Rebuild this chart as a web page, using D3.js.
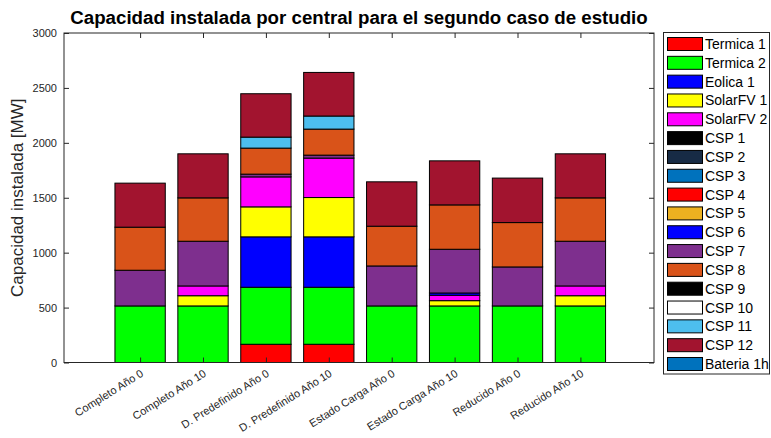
<!DOCTYPE html>
<html><head><meta charset="utf-8">
<script src="https://cdn.jsdelivr.net/npm/d3@7"></script>
<style>body{margin:0;background:#fff;font-family:"Liberation Sans",Arial,sans-serif;}</style>
</head><body>
<svg id="c" width="771" height="438"></svg>
<script>
const categories = ["Completo Año 0","Completo Año 10","D. Predefinido Año 0","D. Predefinido Año 10","Estado Carga Año 0","Estado Carga Año 10","Reducido Año 0","Reducido Año 10"];
const seriesNames = ["Termica 1","Termica 2","Eolica 1","SolarFV 1","SolarFV 2","CSP 1","CSP 2","CSP 3","CSP 4","CSP 5","CSP 6","CSP 7","CSP 8","CSP 9","CSP 10","CSP 11","CSP 12","Bateria 1h"];
const seriesColors = ["#ff0000","#00ff00","#0000ff","#ffff00","#ff00ff","#000000","#172b45","#0072bd","#ff0000","#edb120","#0000ff","#7e2f8e","#d95319","#000000","#ffffff","#4dbeee","#a2142f","#0072bd"];
const termica1 = [0,0,166,166,0,0,0,0];
const termica2 = [515,515,519,519,515,515,515,515];
const eolica1  = [0,0,459,459,0,0,0,0];
const solarFV1 = [0,93,273,358,0,48,0,93];
const solarFV2 = [0,89,273,359,0,49,0,89];
const csp1 = [0,0,0,0,0,0,0,0];
const csp2 = [0,0,0,0,0,0,0,0];
const csp3 = [0,0,0,0,0,0,0,0];
const csp4 = [0,0,0,0,0,0,0,0];
const csp5 = [0,0,0,0,0,0,0,0];
const csp6 = [0,0,0,0,0,21,0,0];
const csp7 = [325,407,25,27,364,398,355,407];
const csp8 = [392,395,237,237,362,404,404,395];
const csp9 = [0,0,0,0,0,0,0,0];
const csp10 = [0,0,0,0,0,0,0,0];
const csp11 = [0,0,100,119,0,0,0,0];
const csp12 = [401,401,395,397,404,401,405,401];
const bateria1h = [0,0,0,0,0,0,0,0];
const yTicks = [0,500,1000,1500,2000,2500,3000];

const seriesValues = [termica1,termica2,eolica1,solarFV1,solarFV2,csp1,csp2,csp3,csp4,csp5,csp6,csp7,csp8,csp9,csp10,csp11,csp12,bateria1h];

const svg = d3.select("#c");
const L = 64, R = 654, T = 33, B = 362.5;
const axisCol = "#262626";
const FONT = '"Liberation Sans",Arial,sans-serif';

const xLin = d3.scaleLinear().domain([-0.21, 9.17]).range([L, R]);
const y = d3.scaleLinear().domain([0, 3000]).range([B, T]);
const bw = (xLin(1) - xLin(0)) * 0.8;

const table = categories.map((c, i) => {
  const o = {cat: c, idx: i};
  seriesNames.forEach((s, j) => o[s] = seriesValues[j][i]);
  return o;
});
const stack = d3.stack().keys(seriesNames)(table);

const g = svg.append("g");
stack.forEach((layer, j) => {
  g.selectAll(null).data(layer.filter(d => d[1] - d[0] > 0)).enter().append("rect")
    .attr("x", d => xLin(d.data.idx + 1) - bw / 2)
    .attr("width", bw)
    .attr("y", d => y(d[1]))
    .attr("height", d => y(d[0]) - y(d[1]))
    .attr("fill", seriesColors[j])
    .attr("stroke", "#000")
    .attr("stroke-width", 1);
});

const xTickVals = categories.map((c, i) => i + 1);
function styleAxis(sel) {
  sel.select(".domain").remove();
  sel.selectAll(".tick line").attr("stroke", axisCol);
  sel.selectAll(".tick text").attr("fill", axisCol).style("font-size", "11px").style("font-family", FONT);
}
styleAxis(svg.append("g").attr("transform", `translate(${L},0)`)
  .call(d3.axisLeft(y).tickValues(yTicks).tickSize(-5).tickPadding(7).tickFormat(d3.format("d"))));
styleAxis(svg.append("g").attr("transform", `translate(${R},0)`)
  .call(d3.axisRight(y).tickValues(yTicks).tickSize(-5).tickFormat("")));
styleAxis(svg.append("g").attr("transform", `translate(0,${B})`)
  .call(d3.axisBottom(xLin).tickValues(xTickVals).tickSize(-5).tickFormat("")));
styleAxis(svg.append("g").attr("transform", `translate(0,${T})`)
  .call(d3.axisTop(xLin).tickValues(xTickVals).tickSize(-5).tickFormat("")));
svg.append("rect").attr("x", L).attr("y", T).attr("width", R - L).attr("height", B - T)
  .attr("fill", "none").attr("stroke", axisCol).attr("stroke-width", 1);

svg.append("g").selectAll("text").data(categories).enter().append("text")
  .attr("transform", (d, i) => `translate(${xLin(i + 1) + 4},${B + 13}) rotate(-32)`)
  .attr("text-anchor", "end")
  .attr("fill", axisCol)
  .style("font-size", "11px").style("font-family", FONT)
  .text(d => d);

svg.append("text")
  .attr("transform", `translate(23,${(T + B) / 2}) rotate(-90)`)
  .attr("text-anchor", "middle")
  .attr("fill", axisCol)
  .style("font-size", "17px").style("font-family", FONT)
  .text("Capacidad instalada [MW]");

svg.append("text")
  .attr("x", (L + R) / 2).attr("y", 24)
  .attr("text-anchor", "middle")
  .style("font-size", "18.7px").style("font-weight", "bold").style("font-family", FONT)
  .attr("fill", "#000")
  .text("Capacidad instalada por central para el segundo caso de estudio");

const lg = svg.append("g");
lg.append("rect").attr("x", 663.5).attr("y", 32.5).attr("width", 106).attr("height", 341.5)
  .attr("fill", "#fff").attr("stroke", axisCol).attr("stroke-width", 1);
const step = (364 - 44) / (seriesNames.length - 1);
seriesNames.forEach((s, i) => {
  const cy = 44 + i * step;
  lg.append("rect").attr("x", 667.5).attr("y", cy - 6.5).attr("width", 35).attr("height", 13)
    .attr("fill", seriesColors[i]).attr("stroke", "#000").attr("stroke-width", 1);
  lg.append("text").attr("x", 705).attr("y", cy + 5).attr("fill", "#000")
    .style("font-size", "14px").style("font-family", FONT).text(s);
});
</script>
</body></html>
